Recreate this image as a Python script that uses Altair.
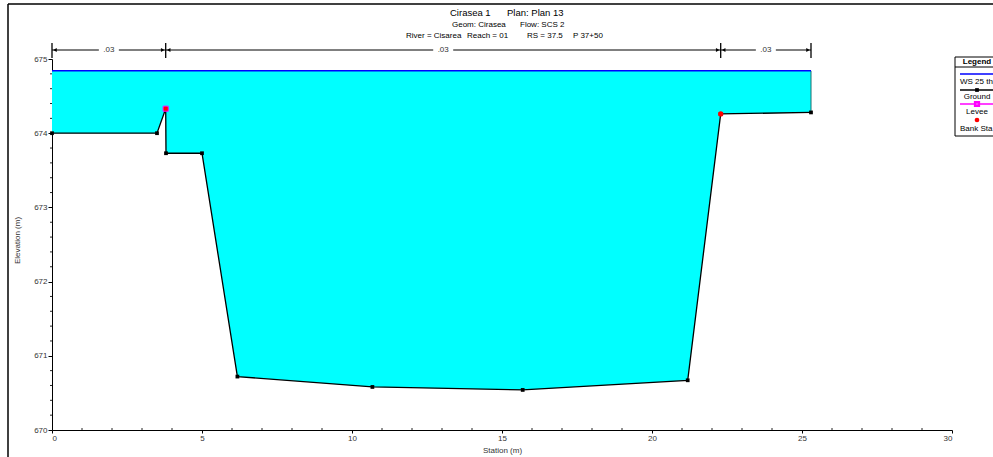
import altair as alt
import pandas as pd

# ---- data ----
station = [0.0, 3.5, 3.79, 3.8, 5.0, 6.18, 10.68, 15.69, 21.19, 22.29, 25.3]
ground = [674.0, 674.0, 674.33, 673.73, 673.73, 670.72, 670.58, 670.54, 670.67, 674.26, 674.28]
ws_elev = 674.84
bank_station = [3.79, 22.29]
bank_elev = [674.33, 674.26]
levee_station = [3.79]
levee_elev = [674.33]
n_start = [0.0, 3.79, 22.29]
n_end = [3.79, 22.29, 25.3]
n_value = [".03", ".03", ".03"]
x_ticks = [0, 5, 10, 15, 20, 25, 30]
y_ticks = [670, 671, 672, 673, 674, 675]
x_minor = [1, 2, 3, 4, 6, 7, 8, 9, 11, 12, 13, 14, 16, 17, 18, 19, 21, 22, 23, 24, 26, 27, 28, 29]
y_minor = [670.2, 670.4, 670.6, 670.8, 671.2, 671.4, 671.6, 671.8, 672.2, 672.4, 672.6, 672.8,
           673.2, 673.4, 673.6, 673.8, 674.2, 674.4, 674.6, 674.8]
title_segments = ["Cirasea 1", "Plan: Plan 13", "Geom: Cirasea", "Flow: SCS 2",
                  "River = Cisarea", "Reach = 01", "RS = 37.5", "P 37+50"]
legend_title = "Legend"
legend_labels = ["WS 25 thn yr", "Ground", "Levee", "Bank Sta"]

FONT = "Liberation Sans"
W, H = 900, 371

xscale = alt.Scale(domain=[0, 30], nice=False, zero=False)
yscale = alt.Scale(domain=[670, 675], nice=False, zero=False)
xaxis = alt.Axis(values=x_ticks, format="d", title="Station (m)", grid=False,
                 tickSize=3, tickColor="black", domainColor="black", domainWidth=1,
                 labelFont=FONT, labelFontSize=8, labelColor="#333333", labelPadding=1,
                 titleFont=FONT, titleFontSize=8, titleFontWeight="normal", titleColor="#333333",
                 titleX=450, titleY=20, titleBaseline="middle")
yaxis = alt.Axis(values=y_ticks, format="d", title="Elevation (m)", grid=False,
                 tickSize=4, tickColor="black", domainColor="black", domainWidth=1,
                 labelFont=FONT, labelFontSize=8, labelColor="#333333", labelPadding=1,
                 titleFont=FONT, titleFontSize=8, titleFontWeight="normal", titleColor="#333333",
                 titleX=-35, titleY=181, titleAngle=270, titleAlign="center", titleBaseline="middle")


def X(f):
    return alt.X(f, type="quantitative", scale=xscale, axis=xaxis)


def Y(f):
    return alt.Y(f, type="quantitative", scale=yscale, axis=yaxis)


one = pd.DataFrame({"a": [0]})
gdf = pd.DataFrame({"s": station, "e": ground, "ws": [ws_elev] * len(station),
                    "i": list(range(len(station)))})
wsdf = pd.DataFrame({"s": [station[0], station[-1]], "e": [ws_elev, ws_elev]})
edge = pd.DataFrame({"s": [station[-1]], "e": [ground[-1]], "e2": [ws_elev]})
bank = pd.DataFrame({"s": bank_station, "e": bank_elev})
levee = pd.DataFrame({"s": levee_station, "e": levee_elev})
ndf = pd.DataFrame({"s": n_start, "s2": n_end, "lab": n_value,
                    "mid": [(a + b) / 2 for a, b in zip(n_start, n_end)]})
ntick = pd.DataFrame({"s": sorted(set(n_start + n_end))})
xm = pd.DataFrame({"s": x_minor})
ym = pd.DataFrame({"e": y_minor})

fill = alt.Chart(gdf).mark_area(color="#00ffff", opacity=1).encode(
    x=X("s"), y=Y("e"), y2=alt.Y2("ws"))
edge_rule = alt.Chart(edge).mark_rule(color="#1f6f6f", strokeWidth=1).encode(
    x=X("s"), y=Y("e"), y2=alt.Y2("e2"))
ws_line = alt.Chart(wsdf).mark_line(color="#0000ff", strokeWidth=1.5).encode(x=X("s"), y=Y("e"))
ground_line = alt.Chart(gdf).mark_line(color="black", strokeWidth=1.3).encode(
    x=X("s"), y=Y("e"), order="i:Q")
ground_pts = alt.Chart(gdf).mark_point(shape="square", filled=True, size=14, color="black",
                                       opacity=1).encode(x=X("s"), y=Y("e"))
bank_pts = alt.Chart(bank).mark_point(shape="circle", filled=True, size=28, color="#ff0000",
                                      opacity=1).encode(x=X("s"), y=Y("e"))
levee_pts = alt.Chart(levee).mark_point(shape="square", filled=False, size=26, color="#ff00ff",
                                        strokeWidth=1, opacity=1).encode(x=X("s"), y=Y("e"))

# minor ticks
xminor = alt.Chart(xm).mark_rule(color="#222222", strokeWidth=1).encode(
    x=X("s"), y=alt.value(H - 2), y2=alt.value(H))
yminor = alt.Chart(ym).mark_rule(color="#222222", strokeWidth=1).encode(
    y=Y("e"), x=alt.value(-2), x2=alt.value(0))

# manning n bracket
n_line = alt.Chart(ndf).mark_rule(color="black", strokeWidth=1).encode(
    x=X("s"), x2=alt.X2("s2"), y=alt.value(-9))
n_ticks = alt.Chart(ntick).mark_rule(color="black", strokeWidth=1.3).encode(
    x=X("s"), y=alt.value(-16), y2=alt.value(-1))
n_arrow_l = alt.Chart(ndf).mark_point(shape="triangle-left", filled=True, size=16, color="black",
                                      opacity=1, xOffset=3).encode(x=X("s"), y=alt.value(-9))
n_arrow_r = alt.Chart(ndf).mark_point(shape="triangle-right", filled=True, size=16, color="black",
                                      opacity=1, xOffset=-3).encode(x=X("s2"), y=alt.value(-9))
n_bg = alt.Chart(ndf).mark_point(shape="M-1,-0.4L1,-0.4L1,0.4L-1,0.4Z", filled=True, size=400,
                                 color="white", opacity=1, strokeWidth=0).encode(
    x=X("mid"), y=alt.value(-9))
n_text = alt.Chart(ndf).mark_text(font=FONT, fontSize=8, color="#333333", baseline="middle").encode(
    x=X("mid"), y=alt.value(-9), text="lab:N")

# title segments
tdf = pd.DataFrame({
    "t": title_segments,
    "px": [398, 455, 400, 468, 354, 415, 475, 521],
    "py": [-46, -46, -34, -34, -23, -23, -23, -23],
    "fs": [9.5, 9.5, 8, 8, 8, 8, 8, 8],
})
titles = alt.Chart(tdf).mark_text(font=FONT, align="left", baseline="middle", color="black").encode(
    x=alt.X("px:Q", scale=None), y=alt.Y("py:Q", scale=None), text="t:N",
    size=alt.Size("fs:Q", scale=None, legend=None))

# frame
frame_v = alt.Chart(one).mark_rule(color="black", strokeWidth=1.5).encode(
    x=alt.value(-44), y=alt.value(-55), y2=alt.value(H + 40))
frame_h = alt.Chart(one).mark_rule(color="black", strokeWidth=1.5).encode(
    x=alt.value(-44), x2=alt.value(W + 60), y=alt.value(-55))

# legend box
leg_box = alt.Chart(one).mark_rect(fill="white", stroke="black", strokeWidth=1).encode(
    x=alt.value(903), x2=alt.value(960), y=alt.value(-2), y2=alt.value(77))
leg_sep = alt.Chart(one).mark_rule(color="black", strokeWidth=1).encode(
    x=alt.value(903), x2=alt.value(960), y=alt.value(8))
leg_lines = alt.Chart(pd.DataFrame({
    "yy": [15, 31, 45], "c": ["#0000ff", "black", "#ff00ff"]})).mark_rule(strokeWidth=1.3).encode(
    x=alt.value(908), x2=alt.value(950), y=alt.Y("yy:Q", scale=None),
    color=alt.Color("c:N", scale=None))
leg_sq = alt.Chart(one).mark_point(shape="square", filled=True, size=14,
                                   color="black", opacity=1).encode(
    x=alt.value(925), y=alt.value(31))
leg_levee = alt.Chart(one).mark_point(shape="square", filled=False, size=18,
                                      color="#ff00ff", opacity=1).encode(
    x=alt.value(925), y=alt.value(45))
leg_dot = alt.Chart(one).mark_point(shape="circle", filled=True, size=22,
                                    color="#ff0000", opacity=1).encode(
    x=alt.value(925), y=alt.value(61))
leg_head = alt.Chart(pd.DataFrame({"t": [legend_title]})).mark_text(
    font=FONT, fontSize=8, fontWeight="bold", align="center", baseline="middle",
    color="black").encode(x=alt.value(925), y=alt.value(3), text="t:N")
ldf = pd.DataFrame({"t": legend_labels,
                    "px": [908, 925, 925, 908],
                    "py": [23, 38, 53, 70],
                    "al": ["left", "center", "center", "left"]})
leg_center = alt.Chart(ldf[ldf.al == "center"]).mark_text(
    font=FONT, fontSize=8, align="center", baseline="middle", color="black").encode(
    x=alt.X("px:Q", scale=None), y=alt.Y("py:Q", scale=None), text="t:N")
leg_left = alt.Chart(ldf[ldf.al == "left"]).mark_text(
    font=FONT, fontSize=8, align="left", baseline="middle", color="black").encode(
    x=alt.X("px:Q", scale=None), y=alt.Y("py:Q", scale=None), text="t:N")

chart = alt.layer(
    fill, edge_rule, ws_line, ground_line, ground_pts, bank_pts, levee_pts,
    xminor, yminor, n_line, n_ticks, n_arrow_l, n_arrow_r, n_bg, n_text,
    titles, frame_v, frame_h, leg_box, leg_sep, leg_lines, leg_sq, leg_levee, leg_dot,
    leg_head, leg_center, leg_left,
).properties(
    width=W, height=H,
    autosize=alt.AutoSizeParams(type="none"),
    padding={"left": 52, "top": 59, "right": 41, "bottom": 27},
    background="white",
).configure_view(stroke=None)

chart.save("out.html", embed_options={"renderer": "svg", "actions": False})
